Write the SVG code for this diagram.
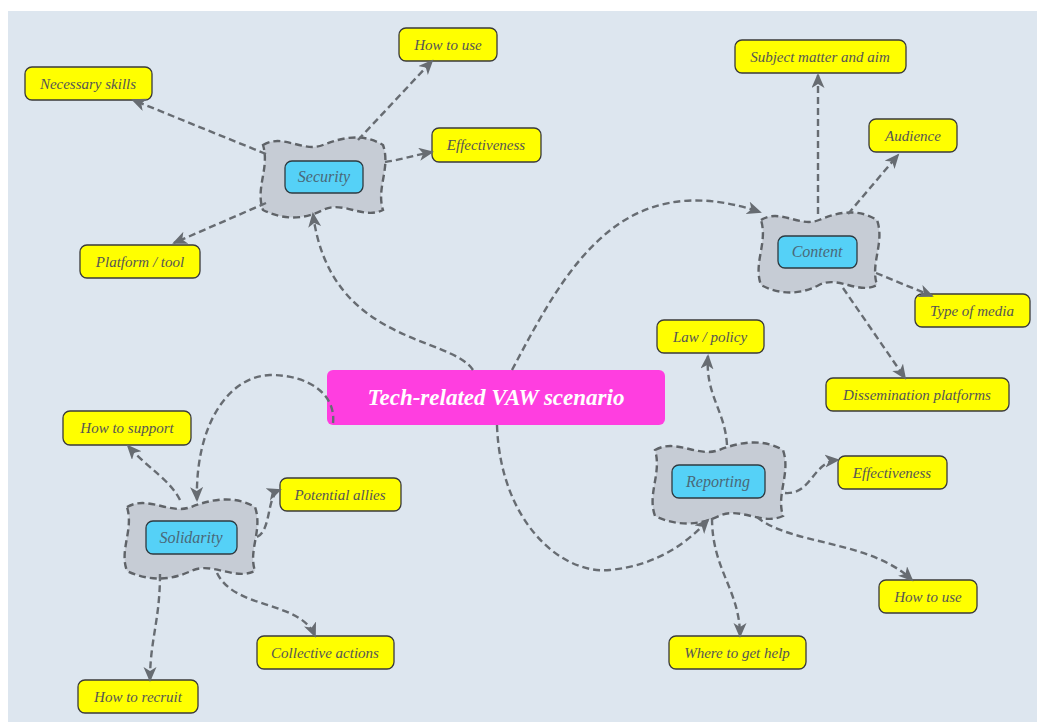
<svg xmlns="http://www.w3.org/2000/svg" width="1037" height="722" viewBox="0 0 1037 722">
<defs>
<style>
.bg{fill:#dde6ef}
.leaf rect{fill:#ffff00;stroke:#3a3a3a;stroke-width:1.3}
.leaf text{font-family:"Liberation Serif",serif;font-style:italic;font-size:15px;fill:#555;text-anchor:middle}
.cloud{fill:#c6ccd5;stroke:#5f6368;stroke-width:2.4;stroke-dasharray:7 4}
.hub rect{fill:#55d1f7;stroke:#2e3a40;stroke-width:1.3}
.hub text{font-family:"Liberation Serif",serif;font-style:italic;font-size:16px;fill:#4a6878;text-anchor:middle}
.conn path{fill:none;stroke:#676c72;stroke-width:2.4;stroke-dasharray:7 4;marker-end:url(#arr)}
</style>
<marker id="arr" markerUnits="userSpaceOnUse" markerWidth="16" markerHeight="14" refX="13" refY="6.5" orient="auto">
<path d="M0,0 L15,6.5 L0,13 L4,6.5 z" fill="#676c72"/>
</marker>
</defs>
<rect x="0" y="0" width="1037" height="722" fill="#ffffff"/>
<rect class="bg" x="8" y="11" width="1029" height="711"/>

<g id="central">
<rect x="327" y="370" width="338" height="55" rx="6" fill="#ff3ee0"/>
<text x="496" y="405" font-family="'Liberation Serif',serif" font-style="italic" font-weight="bold" font-size="23" fill="#ffffff" text-anchor="middle">Tech-related VAW scenario</text>
</g>

<g id="security" class="hub">
<path class="cloud" d="M263,145 C283,133 303,153 323,145 S363,133 383,145 C391,168 376,188 383,210 C363,220 343,200 323,210 S283,220 263,210 C255,188 270,168 263,145 Z"/>
<rect x="285" y="161" width="78" height="32" rx="7"/>
<text x="324" y="182">Security</text>
</g>
<g id="content" class="hub">
<path class="cloud" d="M761,220 C780,208 800,228 819,220 S858,208 877,220 C885,243 870,263 877,285 C858,295 838,275 819,285 S780,295 761,285 C753,263 768,243 761,220 Z"/>
<rect x="778" y="236" width="79" height="32" rx="7"/>
<text x="817" y="257">Content</text>
</g>
<g id="reporting" class="hub">
<path class="cloud" d="M655,450 C676,438 698,458 719,450 S762,438 783,450 C791,473 776,494 783,516 C762,526 740,506 719,516 S676,526 655,516 C647,494 662,473 655,450 Z"/>
<rect x="672" y="465" width="93" height="33" rx="7"/>
<text x="718" y="487">Reporting</text>
</g>
<g id="solidarity" class="hub">
<path class="cloud" d="M127,507 C148,495 170,515 191,507 S234,495 255,507 C263,530 248,550 255,571 C234,581 212,561 191,571 S148,581 127,571 C119,550 134,530 127,507 Z"/>
<rect x="146" y="521" width="91" height="33" rx="7"/>
<text x="191" y="543">Solidarity</text>
</g>

<g id="sec-howtouse" class="leaf"><rect x="399" y="28" width="98" height="33" rx="7"/><text x="448" y="50">How to use</text></g>
<g id="sec-skills" class="leaf"><rect x="25" y="67" width="127" height="33" rx="7"/><text x="88" y="89">Necessary skills</text></g>
<g id="sec-effect" class="leaf"><rect x="432" y="128" width="109" height="34" rx="7"/><text x="486" y="150">Effectiveness</text></g>
<g id="sec-platform" class="leaf"><rect x="80" y="245" width="120" height="33" rx="7"/><text x="140" y="267">Platform / tool</text></g>
<g id="con-subject" class="leaf"><rect x="735" y="40" width="171" height="33" rx="7"/><text x="820" y="62">Subject matter and aim</text></g>
<g id="con-audience" class="leaf"><rect x="869" y="119" width="88" height="33" rx="7"/><text x="913" y="141">Audience</text></g>
<g id="con-media" class="leaf"><rect x="915" y="294" width="115" height="33" rx="7"/><text x="972" y="316">Type of media</text></g>
<g id="con-dissem" class="leaf"><rect x="826" y="378" width="183" height="33" rx="7"/><text x="917" y="400">Dissemination platforms</text></g>
<g id="rep-law" class="leaf"><rect x="657" y="320" width="107" height="33" rx="7"/><text x="710" y="342">Law / policy</text></g>
<g id="rep-effect" class="leaf"><rect x="838" y="456" width="109" height="33" rx="7"/><text x="892" y="478">Effectiveness</text></g>
<g id="rep-howtouse" class="leaf"><rect x="879" y="580" width="98" height="33" rx="7"/><text x="928" y="602">How to use</text></g>
<g id="rep-help" class="leaf"><rect x="669" y="636" width="137" height="33" rx="7"/><text x="737" y="658">Where to get help</text></g>
<g id="sol-support" class="leaf"><rect x="63" y="411" width="128" height="34" rx="7"/><text x="127" y="433">How to support</text></g>
<g id="sol-allies" class="leaf"><rect x="280" y="478" width="121" height="33" rx="7"/><text x="340" y="500">Potential allies</text></g>
<g id="sol-collective" class="leaf"><rect x="257" y="636" width="137" height="33" rx="7"/><text x="325" y="658">Collective actions</text></g>
<g id="sol-recruit" class="leaf"><rect x="78" y="680" width="120" height="33" rx="7"/><text x="138" y="702">How to recruit</text></g>

<g id="connectors" class="conn">
<path d="M358,140 L432,61"/>
<path d="M266,154 L133,100"/>
<path d="M385,162 C400,160 415,155 432,152"/>
<path d="M266,203 L174,243"/>
<path d="M473,370 C450,335 330,345 313,214"/>
<path d="M512,370 C565,270 620,165 760,212"/>
<path d="M818,214 L818,75"/>
<path d="M848,214 L898,155"/>
<path d="M876,273 L932,296"/>
<path d="M843,288 L905,378"/>
<path d="M497,425 C500,520 560,575 610,570 C660,565 690,540 708,520"/>
<path d="M727,445 C725,410 705,395 708,356"/>
<path d="M785,493 C812,495 812,462 838,460"/>
<path d="M757,517 C790,545 870,540 912,580"/>
<path d="M712,518 C712,570 740,590 740,636"/>
<path d="M333,423 C336,395 310,375 270,375 C225,377 195,430 197,500"/>
<path d="M180,500 C170,480 150,470 128,446"/>
<path d="M257,537 C272,530 266,495 280,490"/>
<path d="M217,573 C235,610 300,600 315,636"/>
<path d="M160,574 C160,620 150,640 150,680"/>
</g>
</svg>
